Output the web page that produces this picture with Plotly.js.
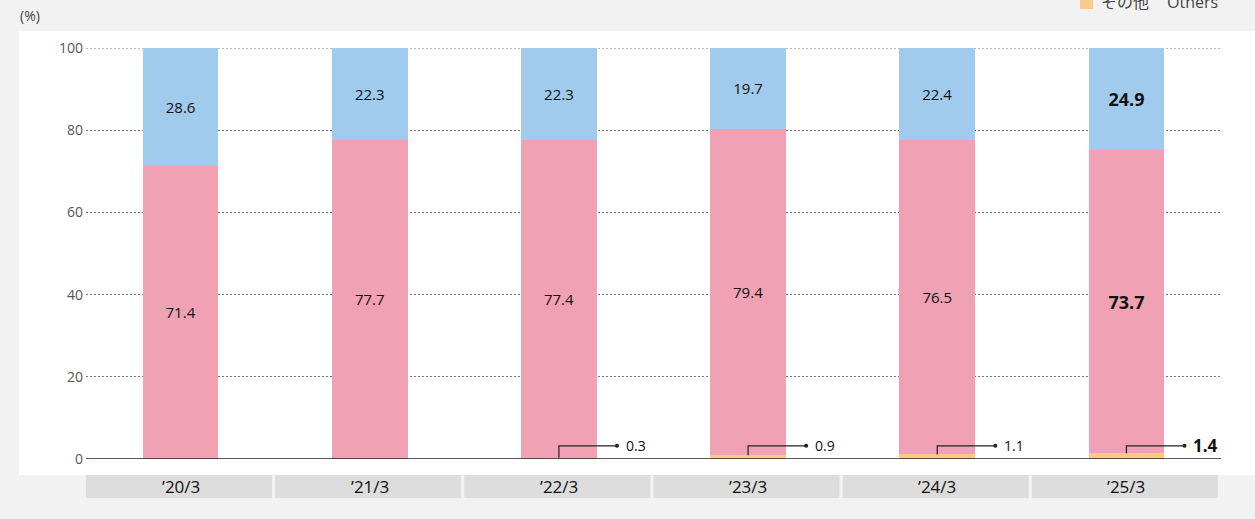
<!DOCTYPE html>
<html><head><meta charset="utf-8">
<script src="https://cdn.plot.ly/plotly-3.0.1.min.js"></script>
<style>html,body{margin:0;padding:0;background:#f1f2f1;}#chart{width:1255px;height:519px;}</style>
</head><body><div id="chart"></div>
<script>
const categories = ["’20/3","’21/3","’22/3","’23/3","’24/3","’25/3"];
const othersVals = [0, 0, 0.3, 0.9, 1.1, 1.4];
const pinkVals = [71.4, 77.7, 77.4, 79.4, 76.5, 73.7];
const blueVals = [28.6, 22.3, 22.3, 19.7, 22.4, 24.9];
const yTicks = [0, 20, 40, 60, 80, 100];
const legendJa = "その他";
const legendEn = "Others";

const FONT = "'Open Sans','Noto Sans CJK JP',sans-serif";
const xs = categories.map((c,i)=>i);
const last = categories.length-1;
const fmt = (v,i)=> i===last ? "<b>"+v.toFixed(1)+"</b>" : v.toFixed(1);
const sizes = categories.map((c,i)=> i===last ? 18 : 15);

const traces = [
  {type:'bar', x:xs, y:othersVals, marker:{color:'#fbc98a'}, textposition:'none', width:0.4, hoverinfo:'skip', cliponaxis:false},
  {type:'bar', x:xs, y:pinkVals, marker:{color:'#f1a1b4'}, text:pinkVals.map(fmt), textposition:'inside',
   insidetextanchor:'middle', constraintext:'none', textfont:{color:'#111', size:sizes, family:FONT}, width:0.4, hoverinfo:'skip', cliponaxis:false},
  {type:'bar', x:xs, y:blueVals, marker:{color:'#a0cbec'}, text:blueVals.map(fmt), textposition:'inside',
   insidetextanchor:'middle', constraintext:'none', textfont:{color:'#111', size:sizes, family:FONT}, width:0.4, hoverinfo:'skip', cliponaxis:false}
];

const ldX=[], ldY=[];
const shapes = [];
const annotations = [];
const LEAD_Y = 3.2, LEAD_DX = 0.307;

// white panel
shapes.push({type:'rect', xref:'paper', yref:'paper', x0:-0.059, x1:1.04, y0:-0.0389, y1:1.0414,
  fillcolor:'#ffffff', line:{width:0}, layer:'below'});
// top gridline at 100
shapes.push({type:'line', xref:'paper', yref:'y', x0:0, x1:1, y0:100, y1:100,
  line:{color:'#777', width:1, dash:'2px,2px'}, layer:'below'});
// category boxes
xs.forEach((x,i)=>{
  shapes.push({type:'rect', xref:'x', yref:'paper', x0:x-0.5, x1:x+0.483, y0:-0.0949, y1:-0.0389,
    fillcolor:'#dcdddc', line:{width:0}, layer:'below'});
  annotations.push({xref:'x', yref:'paper', x:x, y:-0.0669, text:categories[i], showarrow:false,
    xanchor:'center', yanchor:'middle', font:{family:FONT, size:17, color:'#111'}});
});
// leader lines for "others"
othersVals.forEach((v,i)=>{
  if(v>0){
    shapes.push({type:'path', xref:'x', yref:'y',
      path:`M ${i} ${v} L ${i} ${LEAD_Y} L ${i+LEAD_DX} ${LEAD_Y}`,
      line:{color:'#222', width:1.2}});
    ldX.push(i+LEAD_DX); ldY.push(LEAD_Y);
    annotations.push({xref:'x', yref:'y', x:i+LEAD_DX+0.035, y:LEAD_Y, text:fmt(v,i), showarrow:false,
      xanchor:'left', yanchor:'middle', font:{family:FONT, size: i===last?17:14, color:'#111'}});
  }
});
traces.push({type:'scatter', mode:'markers', x:ldX, y:ldY, marker:{color:'#222', size:4}, hoverinfo:'skip', cliponaxis:false});

// zero line
shapes.push({type:'line', xref:'paper', yref:'y', x0:0, x1:1, y0:0, y1:0, line:{color:'#222', width:1.5}});

// (%) label
annotations.push({xref:'paper', yref:'paper', x:-0.0595, y:1.078, text:'(%)', showarrow:false,
  xanchor:'left', yanchor:'middle', font:{family:FONT, size:14, color:'#444'}});
// legend (partially visible at top edge, as in the reference)
shapes.push({type:'rect', xref:'paper', yref:'paper', x0:0.8758, x1:0.8872, y0:1.0949, y1:1.13,
  fillcolor:'#fbc98a', line:{width:0}});
annotations.push({xref:'paper', yref:'paper', x:0.8925, y:1.112, text:legendJa, showarrow:false,
  xanchor:'left', yanchor:'middle', font:{family:FONT, size:16, color:'#444'}});
annotations.push({xref:'paper', yref:'paper', x:0.9506, y:1.112, text:legendEn, showarrow:false,
  xanchor:'left', yanchor:'middle', font:{family:FONT, size:16, color:'#444'}});

const layout = {
  width:1255, height:519,
  margin:{l:86, r:34, t:48, b:60},
  paper_bgcolor:'#f1f2f1', plot_bgcolor:'rgba(0,0,0,0)',
  barmode:'stack', showlegend:false,
  font:{family:FONT},
  xaxis:{range:[-0.5, 5.5], showticklabels:false, showgrid:false, zeroline:false, fixedrange:true},
  yaxis:{range:[0,100.001], tickvals:yTicks, ticktext:yTicks.map(String), showgrid:true, gridcolor:'#777',
    griddash:'2px,2px', gridwidth:1, zeroline:false, ticks:'', tickfont:{family:FONT, size:14, color:'#555'},
    ticklabelstandoff:2, fixedrange:true},
  shapes:shapes, annotations:annotations
};
Plotly.newPlot('chart', traces, layout, {staticPlot:true});
</script></body></html>
